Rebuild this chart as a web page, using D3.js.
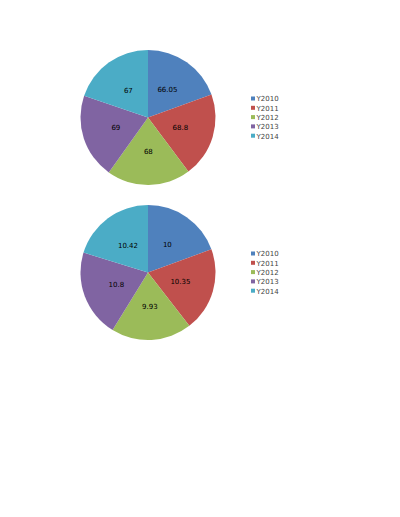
<!DOCTYPE html>
<html>
<head>
<meta charset="utf-8">
<script src="https://d3js.org/d3.v7.min.js"></script>
<style>
  body { margin: 0; background: #fff; }
  text { font-family: "DejaVu Sans", sans-serif; }
</style>
</head>
<body>
<div id="chart"></div>
<script>
  const years = ["Y2010", "Y2011", "Y2012", "Y2013", "Y2014"];
  const topValues = [66.05, 68.8, 68, 69, 67];
  const bottomValues = [10, 10.35, 9.93, 10.8, 10.42];
  const colors = ["#4F81BD", "#C0504D", "#9BBB59", "#8064A2", "#4BACC6"];

  const width = 400, height = 517;
  const svg = d3.select("#chart").append("svg")
    .attr("width", width)
    .attr("height", height);

  const color = d3.scaleOrdinal().domain(years).range(colors);

  function drawPie(values, cx, cy, r, legendY) {
    const data = years.map((y, i) => ({ year: y, value: values[i] }));
    const pie = d3.pie().sort(null).value(d => d.value);
    const arc = d3.arc().innerRadius(0).outerRadius(r);
    const labelArc = d3.arc().innerRadius(r * 0.5).outerRadius(r * 0.5);

    const g = svg.append("g").attr("transform", `translate(${cx},${cy})`);

    g.selectAll("path")
      .data(pie(data))
      .enter().append("path")
      .attr("d", arc)
      .attr("fill", d => color(d.data.year));

    g.selectAll(".label")
      .data(pie(data))
      .enter().append("text")
      .attr("class", "label")
      .attr("transform", d => `translate(${labelArc.centroid(d)})`)
      .attr("text-anchor", "middle")
      .attr("dy", "0.35em")
      .style("font-size", "7px")
      .style("fill", "#000")
      .text(d => d.data.value);

    // legend
    const legend = svg.append("g").attr("transform", `translate(251,${legendY})`);
    const row = legend.selectAll("g")
      .data(years)
      .enter().append("g")
      .attr("transform", (d, i) => `translate(0,${i * 9.3})`);
    row.append("rect")
      .attr("x", 0).attr("y", -2.5)
      .attr("width", 4).attr("height", 4)
      .attr("fill", d => color(d));
    row.append("text")
      .attr("x", 5.5)
      .attr("dy", "0.35em")
      .style("font-size", "7px")
      .style("fill", "#444")
      .text(d => d);
  }

  drawPie(topValues, 148, 117.5, 67.5, 99);
  drawPie(bottomValues, 148, 272.5, 67.5, 254);
</script>
</body>
</html>
